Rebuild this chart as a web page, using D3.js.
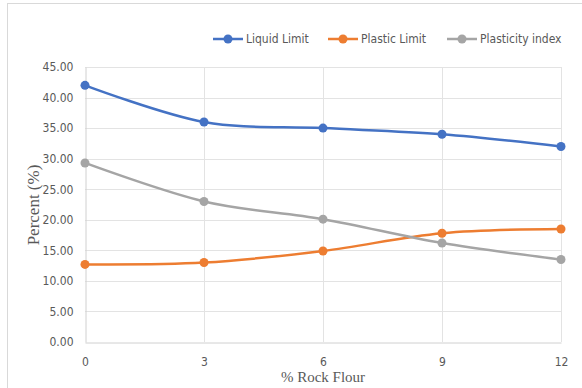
<!DOCTYPE html>
<html>
<head>
<meta charset="utf-8">
<script src="https://cdn.jsdelivr.net/npm/d3@7"></script>
<style>
  html, body { margin: 0; padding: 0; background: #fff; }
  svg { display: block; }
  .tick text { font-family: "Liberation Sans Narrow", "DejaVu Sans Condensed", sans-serif; font-size: 12px; fill: #595959; }
</style>
</head>
<body>
<script>
// Atterberg limits against rock flour content
const rockFlour = [0, 3, 6, 9, 12];
const liquidLimit = [42.0, 36.0, 35.0, 34.0, 32.0];
const plasticLimit = [12.7, 13.0, 14.9, 17.8, 18.5];
const plasticityIndex = [29.3, 23.0, 20.1, 16.2, 13.5];
const yTicks = [0, 5, 10, 15, 20, 25, 30, 35, 40, 45];
const seriesNames = ["Liquid Limit", "Plastic Limit", "Plasticity index"];
const seriesColors = ["#4472C4", "#ED7D31", "#A5A5A5"];

const W = 582, H = 388;
const plot = { left: 85, right: 561, top: 67, bottom: 342 };

const svg = d3.select("body").append("svg").attr("width", W).attr("height", H);

// chart frame
svg.append("rect")
  .attr("x", 7.5).attr("y", 3.5)
  .attr("width", W).attr("height", H)
  .attr("fill", "#fff").attr("stroke", "#d9d9d9").attr("stroke-width", 1);

const x = d3.scalePoint().domain(rockFlour).range([plot.left, plot.right]);
const y = d3.scaleLinear().domain([0, 45]).range([plot.bottom, plot.top]);

// horizontal gridlines
svg.append("g")
  .selectAll("line").data(yTicks.filter(d => d > 0)).join("line")
  .attr("x1", plot.left).attr("x2", plot.right)
  .attr("y1", d => Math.round(y(d)) + 0.5).attr("y2", d => Math.round(y(d)) + 0.5)
  .attr("stroke", "#e3e3e3").attr("stroke-width", 1);

// vertical gridlines at each category
svg.append("g")
  .selectAll("line").data(rockFlour.slice(1)).join("line")
  .attr("x1", d => Math.round(x(d)) + 0.5).attr("x2", d => Math.round(x(d)) + 0.5)
  .attr("y1", plot.top).attr("y2", plot.bottom)
  .attr("stroke", "#e3e3e3").attr("stroke-width", 1);

// y axis
const yAxis = svg.append("g")
  .attr("transform", `translate(${plot.left + 0.5},0)`)
  .call(d3.axisLeft(y).tickValues(yTicks).tickFormat(d3.format(".2f")).tickSize(0).tickPadding(12));
yAxis.select(".domain").attr("stroke", "#d0d0d0");

// x axis
const xAxis = svg.append("g")
  .attr("transform", `translate(0,${plot.bottom + 0.5})`)
  .call(d3.axisBottom(x).tickSize(0).tickPadding(15));
xAxis.select(".domain").attr("stroke", "#d0d0d0");

// axis titles
svg.append("text")
  .attr("transform", `translate(39,205) rotate(-90)`)
  .attr("text-anchor", "middle")
  .attr("font-family", "Liberation Serif, Times New Roman, serif")
  .attr("font-size", 17).attr("fill", "#595959")
  .text("Percent (%)");

svg.append("text")
  .attr("x", 323).attr("y", 382)
  .attr("text-anchor", "middle")
  .attr("font-family", "Liberation Serif, Times New Roman, serif")
  .attr("font-size", 15).attr("fill", "#595959")
  .text("% Rock Flour");

// series lines and markers
const allSeries = [liquidLimit, plasticLimit, plasticityIndex];
const line = d3.line()
  .x((d, i) => x(rockFlour[i]))
  .y(d => y(d))
  .curve(d3.curveCatmullRom.alpha(0));

allSeries.forEach((vals, k) => {
  const g = svg.append("g");
  g.append("path")
    .attr("d", line(vals))
    .attr("fill", "none")
    .attr("stroke", seriesColors[k])
    .attr("stroke-width", 2.5)
    .attr("stroke-linecap", "round");
  g.selectAll("circle").data(vals).join("circle")
    .attr("cx", (d, i) => x(rockFlour[i]))
    .attr("cy", d => y(d))
    .attr("r", 4.5)
    .attr("fill", seriesColors[k]);
});

// legend
const legendX = [213, 328, 447];
const legendY = 39;
seriesNames.forEach((name, k) => {
  const g = svg.append("g").attr("transform", `translate(${legendX[k]},${legendY})`);
  g.append("line").attr("x1", 0).attr("x2", 30).attr("y1", 0).attr("y2", 0)
    .attr("stroke", seriesColors[k]).attr("stroke-width", 2.5);
  g.append("circle").attr("cx", 15).attr("cy", 0).attr("r", 4.5).attr("fill", seriesColors[k]);
  g.append("text").attr("x", 33).attr("y", 0).attr("dy", "0.35em")
    .attr("font-family", "Liberation Sans Narrow, DejaVu Sans Condensed, sans-serif")
    .attr("font-size", 12).attr("fill", "#595959")
    .text(name);
});
</script>
</body>
</html>
